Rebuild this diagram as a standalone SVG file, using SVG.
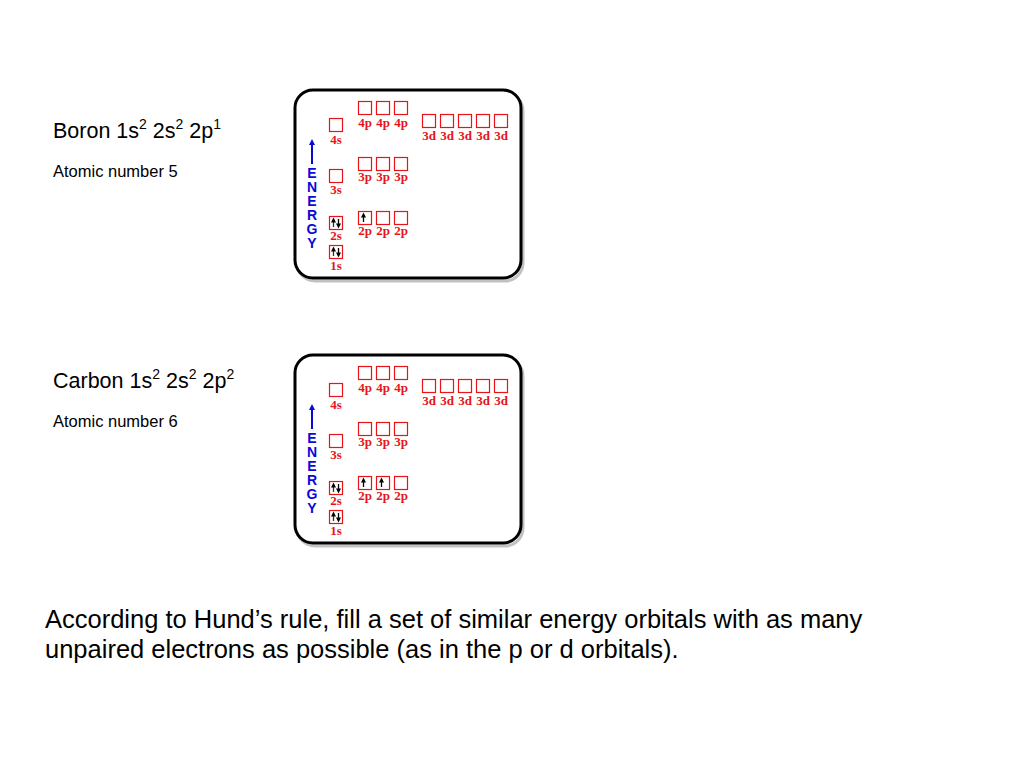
<svg xmlns="http://www.w3.org/2000/svg" xmlns:xlink="http://www.w3.org/1999/xlink" width="1024" height="768" viewBox="0 0 1024 768">
<style>
.t{font-family:"Liberation Sans",Arial,sans-serif;fill:#000}
.sup{font-size:14px}
.lbl{font-family:"Liberation Serif","Times New Roman",serif;font-weight:bold;font-size:13px;fill:#e8141a;text-anchor:middle}
.box{fill:#fff;stroke:#e8141a;stroke-width:1.2}
.en{font-family:"Liberation Sans",Arial,sans-serif;font-weight:bold;font-size:14px;fill:#0a0ad8;text-anchor:middle}
.frame{fill:#fff;stroke:#000;stroke-width:3}
.shadow{fill:none;stroke:#999;stroke-width:3;opacity:0.6}
.eu{stroke:#333;stroke-width:1.3}
.ed{stroke:#000;stroke-width:1.3}
</style>
<defs>
<marker id="ah" viewBox="0 0 10 10" refX="5" refY="5" markerWidth="4" markerHeight="4" orient="auto"><path d="M0,0 L10,5 L0,10 z" fill="#000"/></marker>
<marker id="ab" viewBox="0 0 10 10" refX="5" refY="5" markerWidth="3" markerHeight="3" orient="auto"><path d="M0,0 L10,5 L0,10 z" fill="#0a0ad8"/></marker>
<g id="panel">
<rect class="shadow" x="297" y="93" width="226" height="188" rx="18"/>
<rect class="frame" x="295" y="90" width="226" height="188" rx="18"/>
<line x1="312" y1="164" x2="312" y2="142" stroke="#0a0ad8" stroke-width="2" marker-end="url(#ab)"/>
<text class="en" x="312" y="178">E</text>
<text class="en" x="312" y="192">N</text>
<text class="en" x="312" y="206">E</text>
<text class="en" x="312" y="220">R</text>
<text class="en" x="312" y="234">G</text>
<text class="en" x="312" y="248">Y</text>
<rect class="box" x="329.5" y="118.5" width="13" height="13"/><text class="lbl" x="336" y="144">4s</text>
<rect class="box" x="329.5" y="169.5" width="13" height="13"/><text class="lbl" x="336" y="194">3s</text>
<rect class="box" x="329.5" y="216.5" width="13" height="13"/><text class="lbl" x="336" y="240">2s</text>
<rect class="box" x="329.5" y="245.5" width="13" height="13"/><text class="lbl" x="336" y="270">1s</text>
<rect class="box" x="358.5" y="101.5" width="13" height="13"/><text class="lbl" x="365" y="127">4p</text>
<rect class="box" x="376.5" y="101.5" width="13" height="13"/><text class="lbl" x="383" y="127">4p</text>
<rect class="box" x="394.5" y="101.5" width="13" height="13"/><text class="lbl" x="401" y="127">4p</text>
<rect class="box" x="358.5" y="157.5" width="13" height="13"/><text class="lbl" x="365" y="181">3p</text>
<rect class="box" x="376.5" y="157.5" width="13" height="13"/><text class="lbl" x="383" y="181">3p</text>
<rect class="box" x="394.5" y="157.5" width="13" height="13"/><text class="lbl" x="401" y="181">3p</text>
<rect class="box" x="358.5" y="211.5" width="13" height="13"/><text class="lbl" x="365" y="235">2p</text>
<rect class="box" x="376.5" y="211.5" width="13" height="13"/><text class="lbl" x="383" y="235">2p</text>
<rect class="box" x="394.5" y="211.5" width="13" height="13"/><text class="lbl" x="401" y="235">2p</text>
<rect class="box" x="422.5" y="114.5" width="13" height="13"/><text class="lbl" x="429" y="140">3d</text>
<rect class="box" x="440.5" y="114.5" width="13" height="13"/><text class="lbl" x="447" y="140">3d</text>
<rect class="box" x="458.5" y="114.5" width="13" height="13"/><text class="lbl" x="465" y="140">3d</text>
<rect class="box" x="476.5" y="114.5" width="13" height="13"/><text class="lbl" x="483" y="140">3d</text>
<rect class="box" x="494.5" y="114.5" width="13" height="13"/><text class="lbl" x="501" y="140">3d</text>
<line class="eu" x1="333.5" y1="227" x2="333.5" y2="220" marker-end="url(#ah)"/>
<line class="ed" x1="338.5" y1="219" x2="338.5" y2="226" marker-end="url(#ah)"/>
<line class="eu" x1="333.5" y1="256" x2="333.5" y2="249" marker-end="url(#ah)"/>
<line class="ed" x1="338.5" y1="248" x2="338.5" y2="255" marker-end="url(#ah)"/>
<line class="ed" x1="363.5" y1="222" x2="363.5" y2="215" marker-end="url(#ah)"/>
</g>
</defs>
<rect width="1024" height="768" fill="#fff"/>
<g id="boron">
<text class="t" x="53" y="138" font-size="21.5">Boron 1s<tspan class="sup" dy="-9">2</tspan><tspan dy="9"> 2s</tspan><tspan class="sup" dy="-9">2</tspan><tspan dy="9"> 2p</tspan><tspan class="sup" dy="-9">1</tspan></text>
<text class="t" x="53" y="177" font-size="16.5">Atomic number 5</text>
<use xlink:href="#panel"/>
</g>
<g id="carbon">
<text class="t" x="53" y="388" font-size="21.5">Carbon 1s<tspan class="sup" dy="-9">2</tspan><tspan dy="9"> 2s</tspan><tspan class="sup" dy="-9">2</tspan><tspan dy="9"> 2p</tspan><tspan class="sup" dy="-9">2</tspan></text>
<text class="t" x="53" y="427" font-size="16.5">Atomic number 6</text>
<use xlink:href="#panel" transform="translate(0,265)"/>
<line class="ed" x1="381.5" y1="487" x2="381.5" y2="480" marker-end="url(#ah)"/>
</g>
<g id="hund">
<text class="t" x="45" y="628" font-size="25.5">According to Hund’s rule, fill a set of similar energy orbitals with as many</text>
<text class="t" x="45" y="658" font-size="25.5">unpaired electrons as possible (as in the p or d orbitals).</text>
</g>
</svg>
